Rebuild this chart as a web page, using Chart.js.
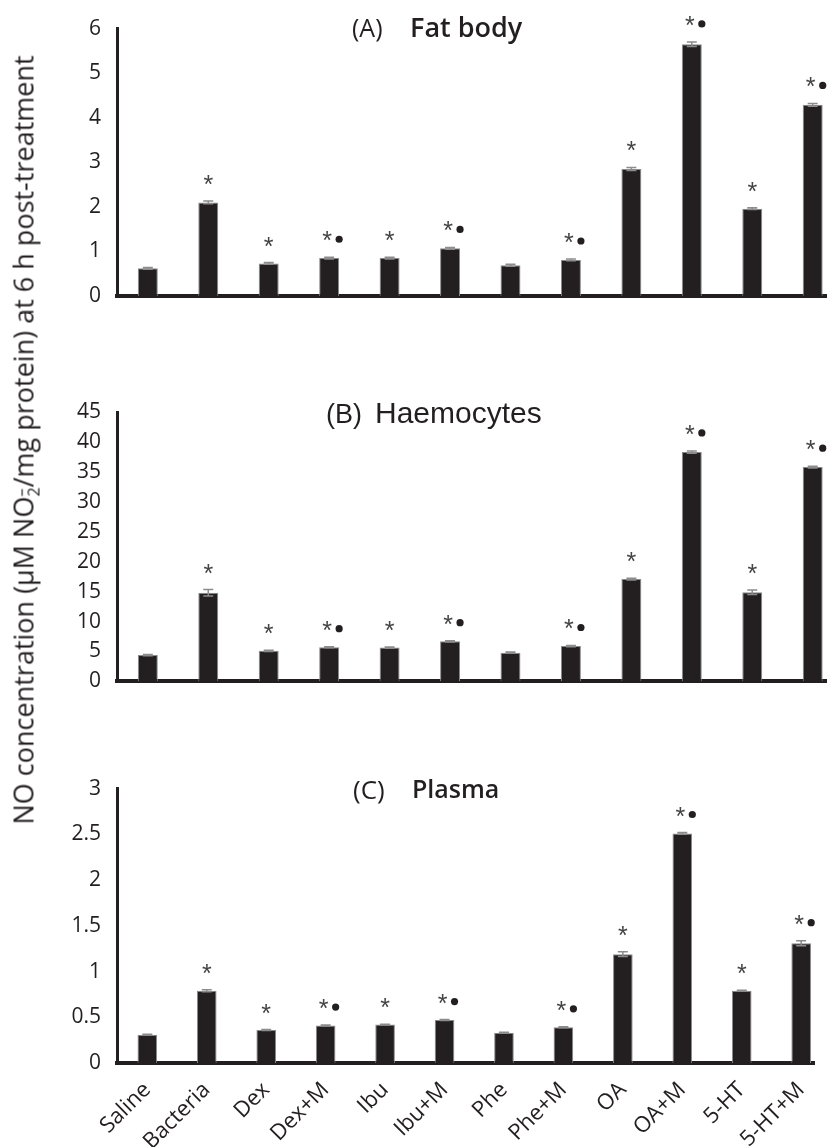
<!DOCTYPE html>
<html>
<head>
<meta charset="utf-8">
<script src="https://cdn.jsdelivr.net/npm/chart.js@4"></script>
<style>
  body { margin: 0; background: #fff; width: 834px; height: 1147px; position: relative; overflow: hidden; font-family: "Open Sans"; }
  .panel { position: absolute; left: 0; }
  #ylabel {
    position: absolute; left: 23px; top: 440px;
    transform: translate(-50%, -50%) rotate(-90deg);
    white-space: nowrap; font-size: 27px; color: #231f20;
  }
  .st { display: inline-block; vertical-align: -0.35em; line-height: 0.8; font-size: 0.6em; text-align: left; }
</style>
</head>
<body>
<div class="panel" style="top:0"><canvas id="chartA" width="834" height="330"></canvas></div>
<div class="panel" style="top:380px"><canvas id="chartB" width="834" height="330"></canvas></div>
<div class="panel" style="top:760px"><canvas id="chartC" width="834" height="387"></canvas></div>
<div id="ylabel">NO concentration (μM NO<span class="st">–<br>2</span>/mg protein) at 6 h post-treatment</div>

<script>
const categories = ['Saline', 'Bacteria', 'Dex', 'Dex+M', 'Ibu', 'Ibu+M', 'Phe', 'Phe+M', 'OA', 'OA+M', '5-HT', '5-HT+M'];

const fatBody    = [0.62, 2.10, 0.73, 0.85, 0.85, 1.07, 0.69, 0.81, 2.85, 5.65, 1.96, 4.29];
const fatBodyErr = [0.02, 0.03, 0.02, 0.02, 0.02, 0.02, 0.02, 0.02, 0.035, 0.05, 0.02, 0.03];

const haemocytes    = [4.4, 14.8, 5.1, 5.7, 5.65, 6.7, 4.8, 5.9, 17.1, 38.3, 14.9, 35.8];
const haemocytesErr = [0.1, 0.55, 0.1, 0.1, 0.1, 0.1, 0.1, 0.1, 0.15, 0.2, 0.38, 0.15];

const plasma    = [0.31, 0.79, 0.36, 0.41, 0.42, 0.47, 0.33, 0.39, 1.19, 2.51, 0.79, 1.31];
const plasmaErr = [0.005, 0.01, 0.005, 0.005, 0.005, 0.005, 0.005, 0.005, 0.027, 0.01, 0.005, 0.027];

// * = differs from saline, • = differs from the drug alone
const marks = ['', '*', '*', '*•', '*', '*•', '', '*•', '*', '*•', '*', '*•'];

const ticksA = [0, 1, 2, 3, 4, 5, 6];
const ticksB = [0, 5, 10, 15, 20, 25, 30, 35, 40, 45];
const ticksC = [0, 0.5, 1, 1.5, 2, 2.5, 3];

const ink = '#231f20';

// error bars, significance marks and the panel title
const annot = {
  id: 'annot',
  afterDatasetsDraw(chart, args, opts) {
    const ctx = chart.ctx;
    const ds = chart.data.datasets[0];
    const meta = chart.getDatasetMeta(0);
    const y = chart.scales.y;
    ctx.save();
    meta.data.forEach((bar, i) => {
      const v = ds.data[i].y, e = ds.errors[i];
      const y1 = y.getPixelForValue(v + e), y2 = y.getPixelForValue(v - e);
      ctx.strokeStyle = '#8c8c8c';
      ctx.lineWidth = 1.5;
      ctx.beginPath();
      ctx.moveTo(bar.x, y1); ctx.lineTo(bar.x, y2);
      ctx.moveTo(bar.x - 5, y1); ctx.lineTo(bar.x + 5, y1);
      ctx.moveTo(bar.x - 5, y2); ctx.lineTo(bar.x + 5, y2);
      ctx.stroke();

      const m = ds.marks[i];
      if (!m) return;
      const top = y1;
      const dot = m.indexOf('•') >= 0;
      ctx.fillStyle = '#444';
      ctx.font = '25px "Liberation Sans"';
      ctx.textAlign = 'center';
      ctx.textBaseline = 'alphabetic';
      ctx.fillText('*', bar.x - (dot ? 2 : 0), top - 8);
      if (dot) {
        ctx.fillStyle = ink;
        ctx.beginPath();
        ctx.arc(bar.x + 10, top - 18, 3.6, 0, Math.PI * 2);
        ctx.fill();
      }
    });
    ctx.textAlign = 'left';
    ctx.textBaseline = 'alphabetic';
    ctx.fillStyle = ink;
    opts.runs.forEach(r => {
      ctx.font = r.font;
      ctx.fillText(r.text, r.x, r.y);
    });
    ctx.restore();
  }
};

function panel(id, values, errors, yTicks, pad, showX, runs) {
  return new Chart(document.getElementById(id), {
    type: 'bar',
    data: {
      datasets: [{
        data: values.map((v, i) => ({ x: i, y: v })),
        errors: errors,
        marks: marks,
        backgroundColor: ink,
        borderColor: '#8a8a8a',
        borderWidth: 1,
        borderSkipped: 'start',
        barPercentage: 0.33,
        categoryPercentage: 1
      }]
    },
    options: {
      responsive: false,
      animation: false,
      events: [],
      layout: { padding: pad },
      plugins: {
        legend: { display: false },
        tooltip: { enabled: false },
        annot: { runs: runs }
      },
      scales: {
        x: {
          type: 'linear',
          min: -0.51,
          max: 11.22,
          offset: false,
          grid: { display: false, drawTicks: false, offset: false },
          border: { display: true, width: 4, color: ink },
          afterBuildTicks: s => { s.ticks = categories.map((c, i) => ({ value: i })); },
          afterFit: s => { s.height = showX ? 84 : 0; },
          ticks: {
            display: showX,
            autoSkip: false,
            minRotation: 45,
            maxRotation: 45,
            padding: 14,
            color: ink,
            font: { family: 'Open Sans', size: 22 },
            callback: v => categories[v]
          }
        },
        y: {
          min: 0,
          max: yTicks[yTicks.length - 1],
          grid: { display: false, drawTicks: false },
          border: { display: true, width: 3, color: ink },
          afterBuildTicks: s => { s.ticks = yTicks.map(v => ({ value: v })); },
          afterFit: s => { s.width = 117; },
          ticks: {
            padding: 16,
            color: ink,
            font: { family: 'Open Sans', size: 21 },
            callback: v => String(v)
          }
        }
      }
    },
    plugins: [annot]
  });
}

panel('chartA', fatBody, fatBodyErr, ticksA, { top: 17, bottom: 34, left: 0, right: 8 }, false, [
  { text: '(A)', x: 352, y: 37, font: '400 25px "Open Sans"' },
  { text: 'Fat body', x: 410, y: 37, font: '600 27px "Open Sans"' }
]);
panel('chartB', haemocytes, haemocytesErr, ticksB, { top: 32, bottom: 22, left: 0, right: 8 }, false, [
  { text: '(B)', x: 326, y: 43, font: '27px "Liberation Sans"' },
  { text: 'Haemocytes', x: 375, y: 43, font: '30px "Liberation Sans"' }
]);
panel('chartC', plasma, plasmaErr, ticksC, { top: 24, bottom: 0, left: 0, right: 8 }, true, [
  { text: '(C)', x: 353, y: 39, font: '400 26px "Open Sans"' },
  { text: 'Plasma', x: 412, y: 38, font: '600 25px "Open Sans"' }
]);
</script>
</body>
</html>
